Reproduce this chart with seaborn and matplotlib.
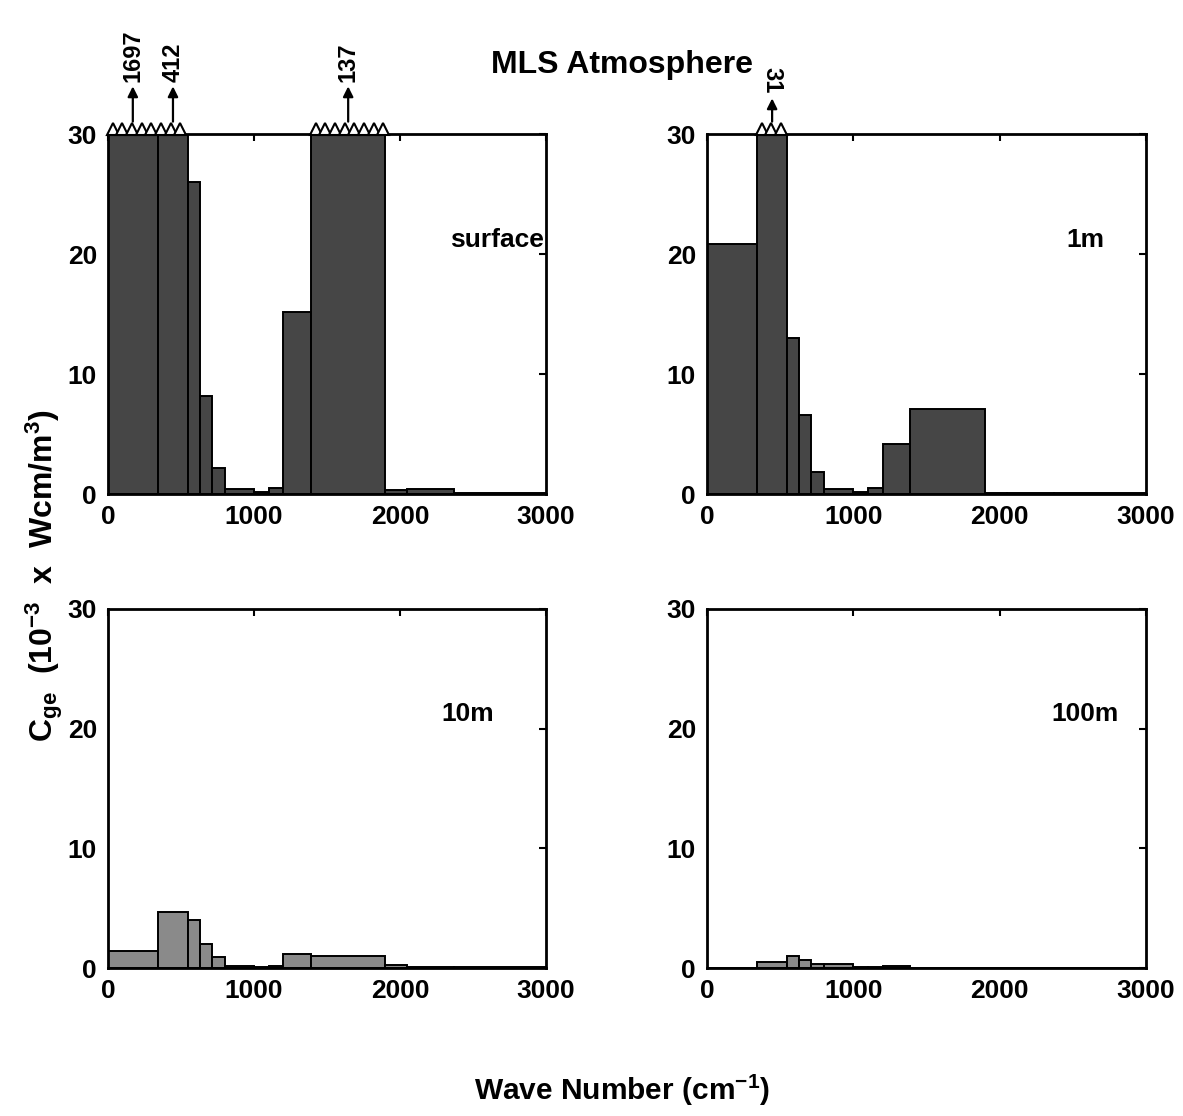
import numpy as np
import pandas as pd
import matplotlib
matplotlib.use("Agg")
import matplotlib.pyplot as plt
import seaborn as sns

# ---- data ----
band_edges = [0, 340, 550, 630, 710, 800, 1000, 1100, 1200, 1390, 1900, 2050, 2370, 3000]
surface = [1697, 412, 26, 8.2, 2.2, 0.4, 0.15, 0.5, 15.2, 137, 0.3, 0.45, 0.1]
one_m = [20.8, 31, 13, 6.6, 1.8, 0.4, 0.15, 0.5, 4.2, 7.1, 0.1, 0.1, 0.05]
ten_m = [1.4, 4.7, 4.0, 2.0, 0.9, 0.2, 0.1, 0.2, 1.2, 1.0, 0.25, 0.05, 0.05]
hundred_m = [0, 0.5, 1.0, 0.65, 0.35, 0.3, 0.1, 0.1, 0.2, 0, 0, 0, 0]
panel_labels = ["surface", "1m", "10m", "100m"]
x_ticks = [0, 1000, 2000, 3000]
y_ticks = [0, 10, 20, 30]
title = "MLS Atmosphere"
x_label = r"Wave Number (cm$^{-1}$)"
y_label = r"C$_{ge}$  (10$^{-3}$  x  Wcm/m$^{3}$)"

series = [surface, one_m, ten_m, hundred_m]

sns.set_style("white")
plt.rcParams["font.family"] = ["Liberation Sans Narrow", "Liberation Sans", "DejaVu Sans"]
plt.rcParams["font.weight"] = "bold"
plt.rcParams["mathtext.default"] = "regular"
plt.rcParams["axes.edgecolor"] = "black"
plt.rcParams["axes.linewidth"] = 1.8
plt.rcParams["text.color"] = "black"
plt.rcParams["axes.labelcolor"] = "black"
plt.rcParams["xtick.color"] = "black"
plt.rcParams["ytick.color"] = "black"

W, H = 1183, 1116
fig = plt.figure(figsize=(W / 100, H / 100), dpi=100)

# axes boxes in pixels: (left, right, top, bottom)
boxes = [(108, 546, 134, 494), (707, 1146, 134, 494),
         (108, 546, 609, 968), (707, 1146, 609, 968)]
fills = ["#464646", "#464646", "#8a8a8a", "#8a8a8a"]
label_x = [2665, 2584, 2466, 2584]
label_y = 21.2

edges = np.array(band_edges, dtype=float)
centers = (edges[:-1] + edges[1:]) / 2
ymax = 30

for i, (vals, box) in enumerate(zip(series, boxes)):
    l, r, t, b = box
    ax = fig.add_axes([l / W, 1 - b / H, (r - l) / W, (b - t) / H])
    df = pd.DataFrame({"wn": centers, "c": vals})
    sns.histplot(data=df, x="wn", weights="c", bins=band_edges, ax=ax,
                 color=fills[i], edgecolor="black", linewidth=1.4, alpha=1.0)
    ax.set_xlim(0, 3000)
    ax.set_ylim(0, ymax)
    ax.set_xticks(x_ticks)
    ax.set_yticks(y_ticks)
    ax.set_xlabel("")
    ax.set_ylabel("")
    ax.tick_params(direction="in", top=True, right=True, length=5, width=1.5,
                   labelsize=19, pad=8, colors="black")
    for s in ax.spines.values():
        s.set_linewidth(2.0)
        s.set_zorder(5)
    ax.text(label_x[i], label_y, panel_labels[i], ha="center", va="center",
            fontsize=19, fontweight="bold")

    # clipped bars: zigzag marks and arrows with the true value
    vals_arr = np.array(vals, dtype=float)
    over = vals_arr > ymax
    spacing = 66.0
    j = 0
    while j < len(vals_arr):
        if over[j]:
            k = j
            while k + 1 < len(vals_arr) and over[k + 1]:
                k += 1
            lo, hi = edges[j], edges[k + 1]
            xs = np.arange(lo + spacing / 2, hi, spacing)
            ax.plot(xs, np.full_like(xs, ymax + 0.38), ls="none", marker="^",
                    ms=9, mfc="white", mec="black", mew=1.5, clip_on=False,
                    zorder=6)
            j = k + 1
        else:
            j += 1
    for c, v in zip(centers, vals_arr):
        if v > ymax:
            top = ymax + 4.2 if i == 0 else ymax + 3.2
            ax.annotate("", xy=(c, top), xytext=(c, ymax + 0.8),
                        arrowprops=dict(arrowstyle="-|>", color="black", lw=1.6,
                                        mutation_scale=15),
                        annotation_clip=False)
            rot = 90 if i == 0 else 270
            ax.text(c, top + 0.15, f"{int(round(v))}", rotation=rot,
                    ha="center", va="bottom", fontsize=17, fontweight="bold",
                    clip_on=False)

fig.text(622 / W, 1 - 65 / H, title, ha="center", va="center", fontsize=23,
         fontweight="bold")
fig.text(622 / W, 1 - 1090 / H, x_label, ha="center", va="center", fontsize=21.5,
         fontweight="bold")
fig.text(44 / W, 1 - 575 / H, y_label, ha="center", va="center", rotation=90,
         fontsize=23, fontweight="bold")

fig.savefig("out.png", dpi=100, facecolor="white")
